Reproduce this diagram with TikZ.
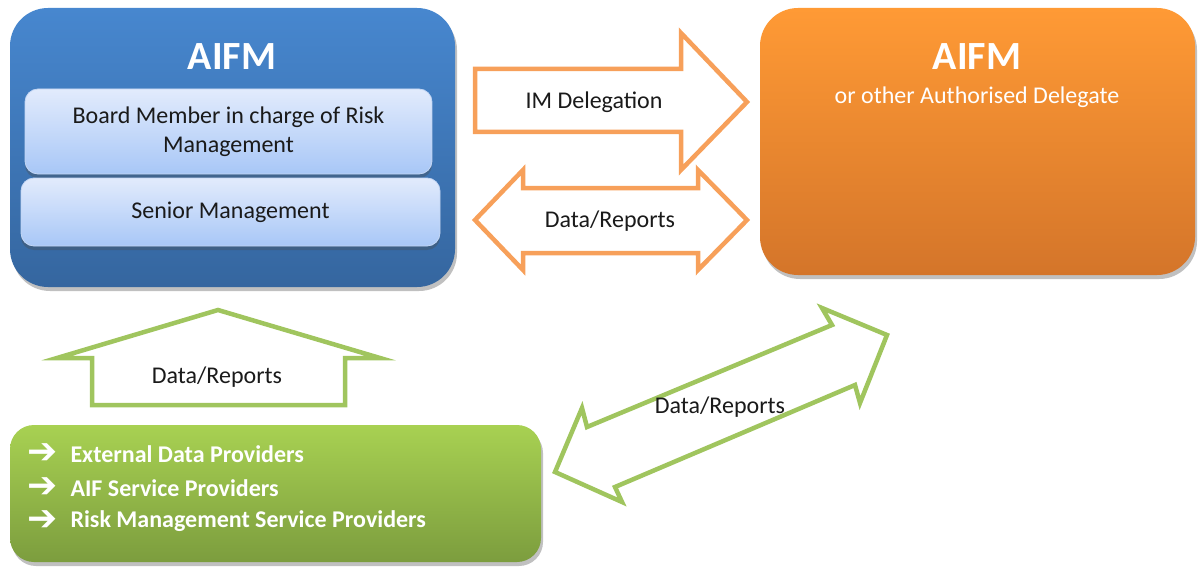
\documentclass[tikz,border=0pt]{standalone}
\usepackage{fontspec}
\setmainfont{Carlito}
\newfontfamily\symfont{DejaVu Sans}
\usetikzlibrary{shadows}
\definecolor{bluetop}{HTML}{4787CF}
\definecolor{bluebot}{HTML}{35669F}
\definecolor{orgtop}{HTML}{FF9A35}
\definecolor{orgbot}{HTML}{D4752A}
\definecolor{grntop}{HTML}{A8D152}
\definecolor{grnbot}{HTML}{7C9D3E}
\definecolor{orgline}{HTML}{F7A05A}
\definecolor{grnline}{HTML}{A0C55E}
\definecolor{innertop}{HTML}{E2EBFC}
\definecolor{innerbot}{HTML}{A8C7F7}
\definecolor{innerline}{HTML}{C3D6F4}
\definecolor{txt}{HTML}{1A1A1A}
\begin{document}
\begin{tikzpicture}[x=1pt,y=-1pt,
  bigbox/.style={rectangle, rounded corners=38pt, inner sep=0pt,
    drop shadow={shadow xshift=2pt, shadow yshift=-4pt, fill=black!45, opacity=0.55}},
  innerbox/.style={rectangle, rounded corners=13pt, inner sep=0pt, draw=innerline, line width=0.8pt,
    top color=innertop, bottom color=innerbot,
    drop shadow={shadow xshift=0pt, shadow yshift=-4pt, fill=black!70, opacity=0.35},
    align=center, text=txt, font=\fontsize{24}{28.5}\selectfont},
  title/.style={text=white, font=\bfseries\fontsize{40}{44}\selectfont},
  lbl/.style={text=txt, font=\fontsize{24}{28}\selectfont},
  orgarrow/.style={draw=orgline, line width=4.5pt, fill=white, line join=miter},
  grnarrow/.style={draw=grnline, line width=4.5pt, fill=white, line join=miter},
  bullet/.style={text=white, inner sep=0pt, scale=1.8, font=\symfont\bfseries\fontsize{20}{24}\selectfont},
  item/.style={text=white, anchor=west, font=\bfseries\fontsize{24}{28}\selectfont}
]
\useasboundingbox (0,0) rectangle (1202,567);

% left AIFM box
\node[bigbox, top color=bluetop, bottom color=bluebot, minimum width=445pt, minimum height=279pt] (aifmL) at (232.5,147.5) {};
\node[title] (aifmLt) at (232,57) {AIFM};
\node[innerbox, minimum width=407pt, minimum height=85pt] (board) at (228.5,131.5) {Board Member in charge of Risk\\Management};
\node[innerbox, minimum width=419pt, minimum height=68pt] (senior) at (230.5,212) {Senior Management};

% right AIFM box
\node[bigbox, top color=orgtop, bottom color=orgbot, minimum width=435pt, minimum height=267pt] (aifmR) at (977.5,141.5) {};
\node[title] (aifmRt) at (977,57) {AIFM};
\node[text=white, font=\fontsize{24}{28}\selectfont] (deleg) at (977,97) {or other Authorised Delegate};

% green box
\node[bigbox, rounded corners=24pt, top color=grntop, bottom color=grnbot, minimum width=531pt, minimum height=137pt] (prov) at (275.5,493.5) {};
\node[bullet] (a1) at (43,454) {➔};
\node[bullet] (a2) at (43,488) {➔};
\node[bullet] (a3) at (43,521) {➔};
\node[item] (i1) at (67,454) {External Data Providers};
\node[item] (i2) at (67,488) {AIF Service Providers};
\node[item] (i3) at (67,521) {Risk Management Service Providers};

% IM Delegation arrow
\draw[orgarrow] (475,69) -- (681,69) -- (681,33) -- (747,102) -- (681,170) -- (681,132) -- (475,132) -- cycle;
\node[lbl] (imd) at (594,102) {IM Delegation};

% Data/Reports double arrow (orange)
\draw[orgarrow] (475,220) -- (523,170) -- (523,188) -- (698,188) -- (698,170) -- (747,220)
  -- (698,270) -- (698,253) -- (523,253) -- (523,270) -- cycle;
\node[lbl] (dr1) at (610,221) {Data/Reports};

% up arrow (green)
\draw[grnarrow] (218,310) -- (380,358) -- (345,358) -- (345,405) -- (92,405) -- (92,358) -- (57,358) -- cycle;
\node[lbl] (dr2) at (217,377) {Data/Reports};

% diagonal double arrow (green)
\draw[grnarrow] (887,335) -- (860,403) -- (855,385) -- (615,487) -- (622,502) -- (555,472)
  -- (582,408) -- (587,427) -- (832,325) -- (822,308) -- cycle;
\node[lbl] (dr3) at (720,407) {Data/Reports};
\end{tikzpicture}
\end{document}
